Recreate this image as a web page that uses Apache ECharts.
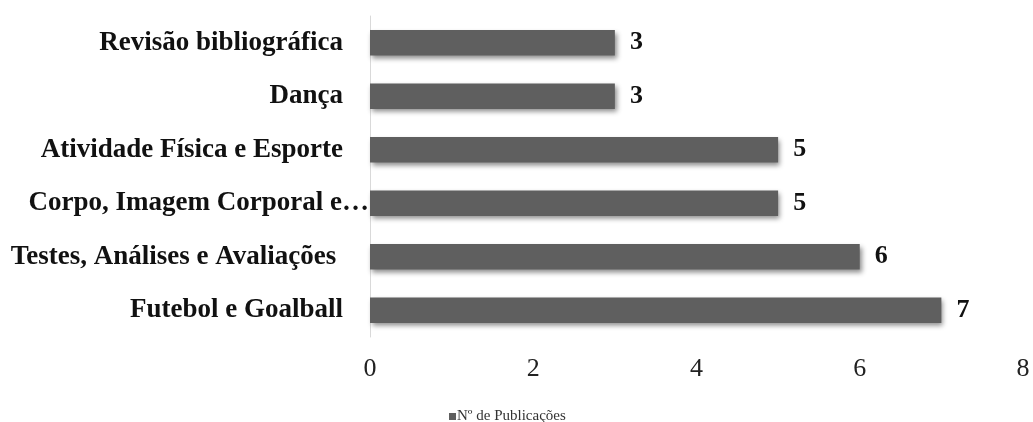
<!DOCTYPE html>
<html>
<head>
<meta charset="utf-8">
<script src="https://cdn.jsdelivr.net/npm/echarts@6/dist/echarts.min.js"></script>
<style>
  html, body { margin: 0; padding: 0; background: #fff; }
  #chart { width: 1033px; height: 422px; }
</style>
</head>
<body>
<div id="chart"></div>
<script>
// categorias (de baixo para cima, como no eixo)
const categorias = [
  "Futebol e Goalball",
  "Testes, Análises e Avaliações ",
  "Corpo, Imagem Corporal e…",
  "Atividade Física e Esporte",
  "Dança",
  "Revisão bibliográfica"
];
const publicacoes = [7, 6, 5, 5, 3, 3];
const serieNome = "Nº de Publicações";

const fonte = '"Liberation Serif", "Times New Roman", serif';

const chart = echarts.init(document.getElementById("chart"));
const option = {
  animation: false,
  grid: { left: 370, right: 10, top: 16, bottom: 85, containLabel: false },
  legend: {
    top: 404,
    left: 444,
    itemWidth: 7,
    itemHeight: 7,
    itemGap: 2,
    icon: "rect",
    textStyle: { fontFamily: fonte, fontSize: 15, color: "#333", padding: [0, 0, 0, -4] },
    data: [serieNome]
  },
  xAxis: {
    type: "value",
    min: 0,
    max: 8,
    interval: 2,
    axisLine: { show: false },
    axisTick: { show: false },
    splitLine: { show: false },
    axisLabel: { fontFamily: fonte, fontSize: 26, color: "#222", margin: 19 }
  },
  yAxis: {
    type: "category",
    data: categorias,
    axisLine: { show: true, lineStyle: { color: "#d9d9d9", width: 1 } },
    axisTick: { show: false },
    axisLabel: {
      fontFamily: fonte,
      fontSize: 27,
      fontWeight: "bold",
      color: "#111",
      margin: 0,
      formatter: function (v) {
        if (v.indexOf("…") >= 0) return "{c|" + v + "}";
        return "{a|" + v + "}";
      },
      rich: {
        a: { fontFamily: fonte, fontSize: 27, fontWeight: "bold", color: "#111", padding: [0, 27, 0, 0] },
        c: { fontFamily: fonte, fontSize: 27, fontWeight: "bold", color: "#111", padding: [0, 1, 0, 0] }
      }
    }
  },
  series: [
    {
      name: serieNome,
      type: "bar",
      data: publicacoes,
      barCategoryGap: "52%",
      itemStyle: {
        color: "#5f5f5f",
        shadowBlur: 5,
        shadowColor: "rgba(0,0,0,0.45)",
        shadowOffsetX: 2,
        shadowOffsetY: 3
      },
      label: {
        show: true,
        position: "right",
        distance: 15,
        fontFamily: fonte,
        fontSize: 26,
        fontWeight: "bold",
        color: "#111"
      }
    }
  ]
};
chart.setOption(option);
</script>
</body>
</html>
